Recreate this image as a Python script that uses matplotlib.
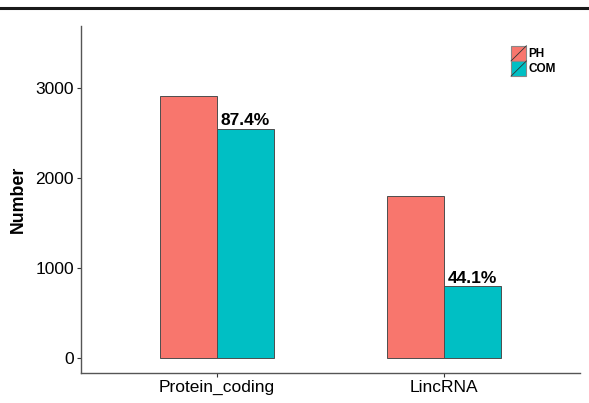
import matplotlib
matplotlib.use("Agg")
import matplotlib.pyplot as plt
import numpy as np
from matplotlib.lines import Line2D
from matplotlib.patches import Patch, Rectangle
from matplotlib.legend_handler import HandlerPatch

plt.rcParams["font.family"] = ["Liberation Sans", "DejaVu Sans"]

categories = ["Protein_coding", "LincRNA"]
ph_values = [2915, 1805]
com_values = [2548, 796]
pct_labels = ["87.4%", "44.1%"]

ph_color = "#F8766D"
com_color = "#00BFC4"
edge = "#4d4d4d"


class SlashHandler(HandlerPatch):
    def create_artists(self, legend, orig_handle, xdescent, ydescent,
                       width, height, fontsize, trans):
        r = Rectangle((-xdescent, -ydescent), width, height,
                      facecolor=orig_handle.get_facecolor(),
                      edgecolor="#888888", lw=0.8, transform=trans)
        l = Line2D([-xdescent, -xdescent + width], [-ydescent, -ydescent + height],
                   color="#333333", lw=0.6, transform=trans)
        return [r, l]


fig = plt.figure(figsize=(5.89, 4.03), dpi=100)
ax = fig.add_axes([0.1375, 0.0744, 0.8472, 0.8611])

x = np.arange(1, len(categories) + 1)
w = 0.25
ax.bar(x - w / 2, ph_values, w, color=ph_color, edgecolor=edge, lw=0.7, label="PH")
ax.bar(x + w / 2, com_values, w, color=com_color, edgecolor=edge, lw=0.7, label="COM")

for xi, v, t in zip(x, com_values, pct_labels):
    ax.annotate(t, (xi + w / 2, v), xytext=(0, 0.3), textcoords="offset points",
                ha="center", va="bottom", fontsize=12.5, fontweight="bold")

ax.set_xlim(0.4, 2.6)
ax.set_ylim(-167, 3690)
ax.set_xticks(x)
ax.set_xticklabels(categories)
ax.set_yticks([0, 1000, 2000, 3000])
ax.tick_params(axis="both", labelsize=12.5, colors="#333333", length=3, width=0.8, pad=2)
ax.tick_params(axis="both", labelcolor="black")
ax.set_ylabel("Number", fontsize=12.8, fontweight="bold", labelpad=6)

for s in ["top", "right"]:
    ax.spines[s].set_visible(False)
for s in ["left", "bottom"]:
    ax.spines[s].set_color("#555555")
    ax.spines[s].set_linewidth(1.0)

handles = [Patch(facecolor=ph_color), Patch(facecolor=com_color)]
ax.legend(handles, ["PH", "COM"], handler_map={Patch: SlashHandler()},
          loc="upper left", bbox_to_anchor=(0.85, 0.96), frameon=False,
          prop={"size": 8.5, "weight": "bold"}, handlelength=1.3, handleheight=1.6,
          handletextpad=0.15, labelspacing=0.0, borderpad=0)

fig.add_artist(Line2D([0, 1], [1 - 8 / 403, 1 - 8 / 403], color="#1a1a1a", lw=2.2,
                      transform=fig.transFigure))

fig.savefig("out.png", dpi=100)
